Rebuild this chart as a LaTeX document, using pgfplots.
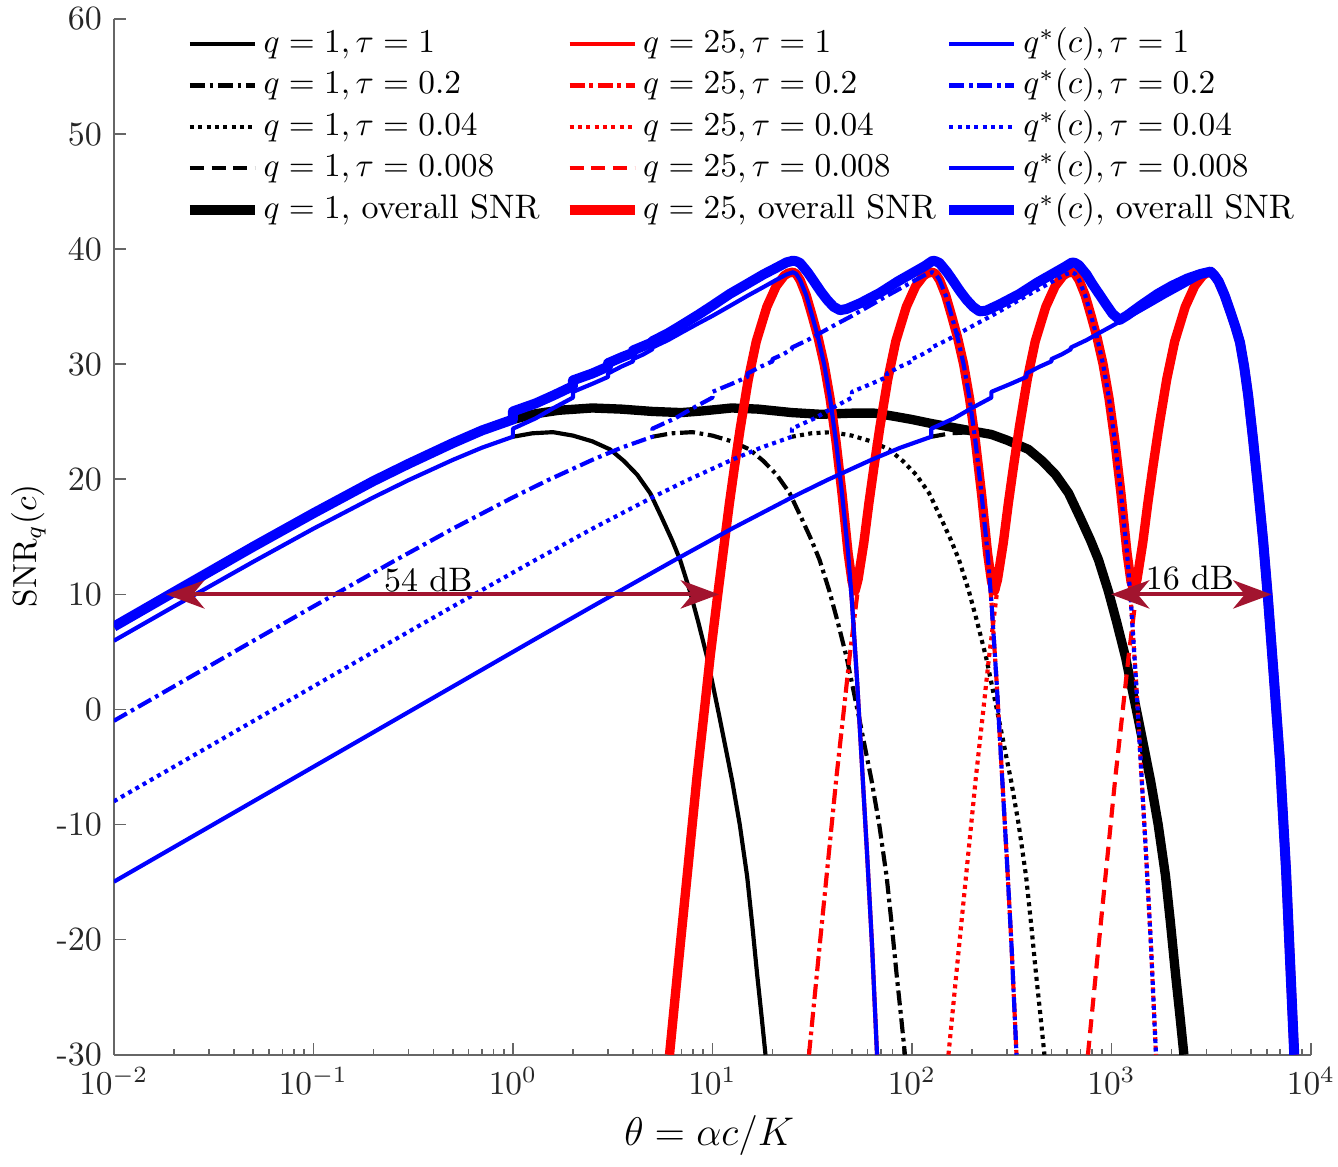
\documentclass[border=0pt]{standalone}
\usepackage{pgfplots}
\pgfplotsset{compat=1.18}
\usetikzlibrary{arrows.meta}

\definecolor{annot}{RGB}{162,20,47}
\tikzset{
  tauline/.style={line width=1.25pt, line join=round},
  allline/.style={line width=2.8pt, line join=round},
  dashdotpat/.style={dash pattern=on 4.5pt off 1.4pt on 1.1pt off 1.4pt},
  dotpat/.style={dash pattern=on 1.2pt off 1.3pt},
  dashpat/.style={dash pattern=on 4.2pt off 2.3pt},
}

\begin{document}
\begin{tikzpicture}
\begin{axis}[
  at={(0pt,0pt)}, anchor=south west,
  scale only axis,
  width=359.25pt, height=310.8pt,
  xmin=-2, xmax=4, ymin=-30, ymax=60,
  axis lines*=left,
  axis line style={-, black!60, line width=0.5pt},
  tick style={black!60, line width=0.5pt},
  tick align=inside,
  major tick length=3.6pt, minor tick length=1.8pt,
  xtick={-2,-1,0,1,2,3,4},
  xticklabels={$10^{-2}$,$10^{-1}$,$10^{0}$,$10^{1}$,$10^{2}$,$10^{3}$,$10^{4}$},
  minor xtick={-1.699,-1.523,-1.398,-1.301,-1.222,-1.155,-1.097,-1.046,
               -0.699,-0.523,-0.398,-0.301,-0.222,-0.155,-0.097,-0.046,
               0.301,0.477,0.602,0.699,0.778,0.845,0.903,0.954,
               1.301,1.477,1.602,1.699,1.778,1.845,1.903,1.954,
               2.301,2.477,2.602,2.699,2.778,2.845,2.903,2.954,
               3.301,3.477,3.602,3.699,3.778,3.845,3.903,3.954},
  ytick={-30,-20,-10,0,10,20,30,40,50,60},
  yticklabels={-30,-20,-10,0,10,20,30,40,50,60},
  ticklabel style={font=\fontsize{10.2}{12}\selectfont, text=black!85},
  xticklabel style={inner sep=0pt, yshift=-3.6pt},
  yticklabel style={inner sep=0pt, xshift=-3.4pt},
  xlabel={$\theta=\alpha c/K$},
  xlabel style={font=\fontsize{12.5}{14}\selectfont, at={(axis description cs:0.4973,-0.0782)}, anchor=center},
  ylabel={$\mathrm{SNR}_q(c)$},
  ylabel style={font=\fontsize{10.2}{12}\selectfont, at={(axis description cs:-0.0714,0.4913)}, anchor=center},
  legend columns=3,
  legend cell align=left,
  legend image code/.code={\draw[#1] (0pt,0pt) -- (19.5pt,0pt);},
  legend style={at={(axis description cs:0.0597,0.9959)}, anchor=north west,
    draw=none, fill=none, inner sep=0pt, outer sep=0pt,
    row sep=0.05pt, column sep=0pt,
    font=\fontsize{10.2}{12}\selectfont,
    nodes={inner xsep=0pt, inner ysep=1.5pt, text height=7.2pt, text depth=2.2pt},
    /tikz/every odd column/.append style={column sep=1.2pt},
    /tikz/every even column/.append style={column sep=2.4pt}},
]

% ---------- q = 1 ----------
\addplot[black, tauline, forget plot] coordinates {
(0.000,23.7) (0.097,24.0) (0.201,24.1) (0.301,23.8) (0.398,23.3) (0.487,22.6) (0.556,21.6) (0.623,20.4) (0.688,18.8) (0.748,16.6) (0.798,14.7) (0.838,13.0) (0.887,10.3) (0.929,7.6) (0.974,4.5) (1.037,-0.8) (1.099,-6.2) (1.137,-10.0) (1.174,-14.5) (1.199,-18.6) (1.224,-23.0) (1.246,-26.6) (1.266,-30.0)};
\addplot[black, tauline, dashdotpat, forget plot] coordinates {
(0.699,23.7) (0.796,24.0) (0.900,24.1) (1.000,23.8) (1.097,23.3) (1.186,22.6) (1.255,21.6) (1.322,20.4) (1.387,18.8) (1.447,16.6) (1.497,14.7) (1.537,13.0) (1.586,10.3) (1.628,7.6) (1.673,4.5) (1.736,-0.8) (1.798,-6.2) (1.836,-10.0) (1.873,-14.5) (1.898,-18.6) (1.923,-23.0) (1.945,-26.6) (1.965,-30.0)};
\addplot[black, tauline, dotpat, forget plot] coordinates {
(1.398,23.7) (1.495,24.0) (1.599,24.1) (1.699,23.8) (1.796,23.3) (1.885,22.6) (1.954,21.6) (2.021,20.4) (2.086,18.8) (2.146,16.6) (2.196,14.7) (2.236,13.0) (2.285,10.3) (2.327,7.6) (2.372,4.5) (2.435,-0.8) (2.497,-6.2) (2.535,-10.0) (2.572,-14.5) (2.597,-18.6) (2.622,-23.0) (2.644,-26.6) (2.664,-30.0)};
\addplot[black, tauline, dashpat, forget plot] coordinates {
(2.097,23.7) (2.194,24.0) (2.298,24.1) (2.398,23.8) (2.495,23.3) (2.584,22.6) (2.653,21.6) (2.720,20.4) (2.785,18.8) (2.845,16.6) (2.895,14.7) (2.935,13.0) (2.984,10.3) (3.026,7.6) (3.071,4.5) (3.134,-0.8) (3.196,-6.2) (3.234,-10.0) (3.271,-14.5) (3.296,-18.6) (3.321,-23.0) (3.343,-26.6) (3.363,-30.0)};
\addplot[black, allline, forget plot] coordinates {
(0.000,25.2) (0.114,25.7) (0.230,26.0) (0.398,26.2) (0.544,26.1) (0.699,25.9) (0.845,25.8) (0.954,25.95) (1.097,26.2) (1.230,26.1) (1.398,25.8) (1.544,25.65) (1.699,25.75) (1.813,25.75) (1.903,25.5) (2.000,25.2) (2.097,24.85) (2.176,24.6) (2.301,24.2) (2.398,23.9) (2.477,23.4) (2.584,22.6) (2.653,21.6) (2.720,20.4) (2.785,18.8) (2.845,16.6) (2.895,14.7) (2.935,13.0) (2.984,10.3) (3.026,7.6) (3.071,4.5) (3.134,-0.8) (3.196,-6.2) (3.234,-10.0) (3.271,-14.5) (3.296,-18.6) (3.321,-23.0) (3.343,-26.6) (3.363,-30.0)};

% ---------- q = 25 ----------
\addplot[red, tauline, forget plot] coordinates {
(0.785,-30) (0.830,-22.0) (0.873,-14.5) (0.923,-5.8) (0.960,0.0) (0.988,4.5) (1.029,10.3) (1.060,14.5) (1.085,17.9) (1.110,21.0) (1.140,24.5) (1.180,28.7) (1.220,32.0) (1.273,35.0) (1.320,36.8) (1.360,37.7) (1.380,37.92) (1.404,38.0) (1.420,37.85) (1.440,37.3) (1.470,36.0) (1.500,34.2) (1.530,32.3) (1.560,30.0) (1.590,27.0) (1.620,23.2) (1.650,18.7) (1.680,13.6) (1.700,9.2) (1.725,2.5) (1.750,-5.0) (1.775,-12.5) (1.800,-20.5) (1.825,-30.0)};
\addplot[red, tauline, dashdotpat, forget plot] coordinates {
(1.484,-30) (1.529,-22.0) (1.572,-14.5) (1.622,-5.8) (1.659,0.0) (1.687,4.5) (1.728,10.3) (1.759,14.5) (1.784,17.9) (1.809,21.0) (1.839,24.5) (1.879,28.7) (1.919,32.0) (1.972,35.0) (2.019,36.8) (2.059,37.7) (2.079,37.92) (2.103,38.0) (2.119,37.85) (2.139,37.3) (2.169,36.0) (2.199,34.2) (2.229,32.3) (2.259,30.0) (2.289,27.0) (2.319,23.2) (2.349,18.7) (2.379,13.6) (2.399,9.2) (2.424,2.5) (2.449,-5.0) (2.474,-12.5) (2.499,-20.5) (2.524,-30.0)};
\addplot[red, tauline, dotpat, forget plot] coordinates {
(2.183,-30) (2.228,-22.0) (2.271,-14.5) (2.321,-5.8) (2.358,0.0) (2.386,4.5) (2.427,10.3) (2.458,14.5) (2.483,17.9) (2.508,21.0) (2.538,24.5) (2.578,28.7) (2.618,32.0) (2.671,35.0) (2.718,36.8) (2.758,37.7) (2.778,37.92) (2.802,38.0) (2.818,37.85) (2.838,37.3) (2.868,36.0) (2.898,34.2) (2.928,32.3) (2.958,30.0) (2.988,27.0) (3.018,23.2) (3.048,18.7) (3.078,13.6) (3.098,9.2) (3.123,2.5) (3.148,-5.0) (3.173,-12.5) (3.198,-20.5) (3.223,-30.0)};
\addplot[red, tauline, dashpat, forget plot] coordinates {
(2.882,-30) (2.927,-22.0) (2.970,-14.5) (3.020,-5.8) (3.057,0.0) (3.085,4.5) (3.126,10.3) (3.157,14.5) (3.182,17.9) (3.207,21.0) (3.237,24.5) (3.277,28.7) (3.317,32.0) (3.370,35.0) (3.417,36.8) (3.457,37.7) (3.477,37.92) (3.501,38.0) (3.517,37.7) (3.537,37.2) (3.567,36.0) (3.597,34.5) (3.622,33.2) (3.644,31.9) (3.665,29.8) (3.685,27.3) (3.710,23.4) (3.736,19.0) (3.760,14.7) (3.785,9.5) (3.813,3.0) (3.844,-4.4) (3.875,-14.0) (3.898,-23.0) (3.916,-30.0)};
\addplot[red, allline, forget plot] coordinates {
(0.785,-30) (0.830,-22.0) (0.873,-14.5) (0.923,-5.8) (0.960,0.0) (0.988,4.5) (1.029,10.3) (1.060,14.5) (1.085,17.9) (1.110,21.0) (1.140,24.5) (1.180,28.7) (1.220,32.0) (1.273,35.0) (1.320,36.8) (1.360,37.7) (1.380,37.92) (1.404,38.0) (1.420,37.85) (1.440,37.3) (1.470,36.0) (1.500,34.2) (1.530,32.3) (1.560,30.0) (1.590,27.0) (1.620,23.2) (1.650,18.7) (1.680,13.6) (1.700,11.1) (1.715,10.3) (1.730,11.3) (1.759,14.5) (1.784,17.9) (1.809,21.0) (1.839,24.5) (1.879,28.7) (1.919,32.0) (1.972,35.0) (2.019,36.8) (2.059,37.7) (2.079,37.92) (2.103,38.0) (2.119,37.85) (2.139,37.3) (2.169,36.0) (2.199,34.2) (2.229,32.3) (2.259,30.0) (2.289,27.0) (2.319,23.2) (2.349,18.7) (2.379,13.6) (2.399,11.1) (2.414,10.3) (2.429,11.3) (2.458,14.5) (2.483,17.9) (2.508,21.0) (2.538,24.5) (2.578,28.7) (2.618,32.0) (2.671,35.0) (2.718,36.8) (2.758,37.7) (2.778,37.92) (2.802,38.0) (2.818,37.85) (2.838,37.3) (2.868,36.0) (2.898,34.2) (2.928,32.3) (2.958,30.0) (2.988,27.0) (3.018,23.2) (3.048,18.7) (3.078,13.6) (3.098,11.1) (3.113,10.3) (3.128,11.3) (3.157,14.5) (3.182,17.9) (3.207,21.0) (3.237,24.5) (3.277,28.7) (3.317,32.0) (3.370,35.0) (3.417,36.8) (3.457,37.7) (3.477,37.92) (3.501,38.0) (3.517,37.7) (3.537,37.2) (3.567,36.0) (3.597,34.5) (3.622,33.2) (3.644,31.9) (3.665,29.8) (3.685,27.3) (3.710,23.4) (3.736,19.0) (3.760,14.7) (3.785,9.5) (3.813,3.0) (3.844,-4.4) (3.875,-14.0) (3.898,-23.0) (3.916,-30.0)};

% ---------- q*(c) ----------
\addplot[blue, tauline, forget plot] coordinates {
(-2.000,5.97) (-1.699,8.95) (-1.301,12.84) (-1.000,15.71) (-0.699,18.43) (-0.523,19.93) (-0.301,21.69) (-0.155,22.75) (0.000,23.70) (0.000,24.4) (0.114,25.3) (0.204,26.2) (0.301,27.1) (0.301,27.6) (0.398,28.3) (0.477,28.9) (0.477,29.2) (0.544,29.8) (0.602,30.25) (0.602,30.45) (0.653,30.85) (0.699,31.3) (0.699,31.45) (0.778,32.1) (0.845,32.75) (0.929,33.55) (1.000,34.2) (1.086,35.05) (1.176,35.95) (1.255,36.7) (1.322,37.35) (1.371,37.8) (1.404,38.0) (1.420,37.85) (1.440,37.3) (1.470,36.0) (1.500,34.2) (1.530,32.3) (1.560,30.0) (1.590,27.0) (1.620,23.2) (1.650,18.7) (1.680,13.6) (1.700,9.2) (1.725,2.5) (1.750,-5.0) (1.775,-12.5) (1.800,-20.5) (1.825,-30.0)};
\addplot[blue, tauline, dashdotpat, forget plot] coordinates {
(-2.000,-0.99) (-1.301,5.97) (-1.000,8.95) (-0.602,12.84) (-0.301,15.71) (0.000,18.43) (0.176,19.93) (0.398,21.69) (0.544,22.75) (0.699,23.70) (0.699,24.4) (0.813,25.3) (0.903,26.2) (1.000,27.1) (1.000,27.6) (1.097,28.3) (1.176,28.9) (1.176,29.2) (1.243,29.8) (1.301,30.25) (1.301,30.45) (1.352,30.85) (1.398,31.3) (1.398,31.45) (1.477,32.1) (1.544,32.75) (1.628,33.55) (1.699,34.2) (1.785,35.05) (1.875,35.95) (1.954,36.7) (2.021,37.35) (2.070,37.8) (2.103,38.0) (2.119,37.85) (2.139,37.3) (2.169,36.0) (2.199,34.2) (2.229,32.3) (2.259,30.0) (2.289,27.0) (2.319,23.2) (2.349,18.7) (2.379,13.6) (2.399,9.2) (2.424,2.5) (2.449,-5.0) (2.474,-12.5) (2.499,-20.5) (2.524,-30.0)};
\addplot[blue, tauline, dotpat, forget plot] coordinates {
(-2.000,-7.98) (-0.602,5.97) (-0.301,8.95) (0.097,12.84) (0.398,15.71) (0.699,18.43) (0.875,19.93) (1.097,21.69) (1.243,22.75) (1.398,23.70) (1.398,24.4) (1.512,25.3) (1.602,26.2) (1.699,27.1) (1.699,27.6) (1.796,28.3) (1.875,28.9) (1.875,29.2) (1.942,29.8) (2.000,30.25) (2.000,30.45) (2.051,30.85) (2.097,31.3) (2.097,31.45) (2.176,32.1) (2.243,32.75) (2.327,33.55) (2.398,34.2) (2.484,35.05) (2.574,35.95) (2.653,36.7) (2.720,37.35) (2.769,37.8) (2.802,38.0) (2.818,37.85) (2.838,37.3) (2.868,36.0) (2.898,34.2) (2.928,32.3) (2.958,30.0) (2.988,27.0) (3.018,23.2) (3.048,18.7) (3.078,13.6) (3.098,9.2) (3.123,2.5) (3.148,-5.0) (3.173,-12.5) (3.198,-20.5) (3.223,-30.0)};
\addplot[blue, tauline, forget plot] coordinates {
(-2.000,-14.97) (0.097,5.97) (0.398,8.95) (0.796,12.84) (1.097,15.71) (1.398,18.43) (1.574,19.93) (1.796,21.69) (1.942,22.75) (2.097,23.70) (2.097,24.4) (2.211,25.3) (2.301,26.2) (2.398,27.1) (2.398,27.6) (2.495,28.3) (2.574,28.9) (2.574,29.2) (2.641,29.8) (2.699,30.25) (2.699,30.45) (2.750,30.85) (2.796,31.3) (2.796,31.45) (2.875,32.1) (2.942,32.75) (3.026,33.55) (3.097,34.2) (3.183,35.05) (3.273,35.95) (3.352,36.7) (3.419,37.35) (3.468,37.8) (3.501,38.0) (3.517,37.7) (3.537,37.2) (3.567,36.0) (3.597,34.5) (3.622,33.2) (3.644,31.9) (3.665,29.8) (3.685,27.3) (3.710,23.4) (3.736,19.0) (3.760,14.7) (3.785,9.5) (3.813,3.0) (3.844,-4.4) (3.875,-14.0) (3.898,-23.0) (3.916,-30.0)};
\addplot[blue, allline, line width=3pt, forget plot] coordinates {
(-2.000,7.2) (-1.699,10.2) (-1.301,14.15) (-1.000,17.05) (-0.699,19.85) (-0.523,21.35) (-0.301,23.15) (-0.155,24.25) (0.000,25.2) (0.000,25.9) (0.114,26.6) (0.204,27.3) (0.301,28.1) (0.301,28.6) (0.398,29.2) (0.477,29.8) (0.477,30.1) (0.544,30.6) (0.602,31.0) (0.602,31.2) (0.699,31.9) (0.699,32.0) (0.778,32.7) (0.845,33.4) (0.929,34.3) (1.000,35.1) (1.086,36.1) (1.176,37.0) (1.255,37.8) (1.322,38.4) (1.371,38.85) (1.404,39.0) (1.420,38.95) (1.439,38.8) (1.477,38.0) (1.505,37.3) (1.544,36.3) (1.575,35.6) (1.607,35.0) (1.639,34.7) (1.672,34.8) (1.740,35.3) (1.839,36.2) (1.929,37.2) (2.000,37.9) (2.061,38.5) (2.104,39.0) (2.119,38.95) (2.138,38.8) (2.176,38.0) (2.204,37.3) (2.243,36.3) (2.274,35.6) (2.306,35.0) (2.338,34.6) (2.371,34.65) (2.439,35.2) (2.538,36.1) (2.628,37.1) (2.699,37.8) (2.760,38.4) (2.803,38.85) (2.818,38.8) (2.837,38.6) (2.875,37.8) (2.903,37.0) (2.942,36.0) (2.973,35.2) (3.005,34.4) (3.041,33.85) (3.079,34.25) (3.146,35.1) (3.230,36.1) (3.301,36.8) (3.380,37.45) (3.447,37.85) (3.497,38.05) (3.517,37.7) (3.537,37.2) (3.567,36.0) (3.597,34.5) (3.622,33.2) (3.644,31.9) (3.665,29.8) (3.685,27.3) (3.710,23.4) (3.736,19.0) (3.760,14.7) (3.785,9.5) (3.813,3.0) (3.844,-4.4) (3.875,-14.0) (3.898,-23.0) (3.916,-30.0)};

% ---------- annotations ----------
\draw[annot, line width=1.2pt,
  {Stealth[length=11.5pt,width=8.5pt,inset=3.5pt]}-{Stealth[length=11.5pt,width=8.5pt,inset=3.5pt]}]
  (axis cs:-1.738,10) -- (axis cs:1.033,10);
\draw[annot, line width=1.2pt,
  {Stealth[length=11.5pt,width=8.5pt,inset=3.5pt]}-{Stealth[length=11.5pt,width=8.5pt,inset=3.5pt]}]
  (axis cs:2.998,10) -- (axis cs:3.802,10);
\node[font=\fontsize{10.2}{12}\selectfont, inner sep=0pt, anchor=center] at (axis cs:-0.424,11.27) {54 dB};
\node[font=\fontsize{10.2}{12}\selectfont, inner sep=0pt, anchor=center] at (axis cs:3.393,11.44) {16 dB};

% ---------- legend (rows filled left to right) ----------
\addlegendimage{black, tauline}
\addlegendentry{\makebox[88pt][l]{$q=1, \tau=1$}}
\addlegendimage{red, tauline}
\addlegendentry{\makebox[88pt][l]{$q=25, \tau=1$}}
\addlegendimage{blue, tauline}
\addlegendentry{\makebox[88pt][l]{$q^*(c), \tau=1$}}
\addlegendimage{black, tauline, dashdotpat}
\addlegendentry{\makebox[88pt][l]{$q=1, \tau=0.2$}}
\addlegendimage{red, tauline, dashdotpat}
\addlegendentry{\makebox[88pt][l]{$q=25, \tau=0.2$}}
\addlegendimage{blue, tauline, dashdotpat}
\addlegendentry{\makebox[88pt][l]{$q^*(c), \tau=0.2$}}
\addlegendimage{black, tauline, dotpat}
\addlegendentry{\makebox[88pt][l]{$q=1, \tau=0.04$}}
\addlegendimage{red, tauline, dotpat}
\addlegendentry{\makebox[88pt][l]{$q=25, \tau=0.04$}}
\addlegendimage{blue, tauline, dotpat}
\addlegendentry{\makebox[88pt][l]{$q^*(c), \tau=0.04$}}
\addlegendimage{black, tauline, dashpat}
\addlegendentry{\makebox[88pt][l]{$q=1, \tau=0.008$}}
\addlegendimage{red, tauline, dashpat}
\addlegendentry{\makebox[88pt][l]{$q=25, \tau=0.008$}}
\addlegendimage{blue, tauline}
\addlegendentry{\makebox[88pt][l]{$q^*(c), \tau=0.008$}}
\addlegendimage{black, allline}
\addlegendentry{\makebox[88pt][l]{$q=1$, overall SNR}}
\addlegendimage{red, allline}
\addlegendentry{\makebox[88pt][l]{$q=25$, overall SNR}}
\addlegendimage{blue, allline, line width=3pt}
\addlegendentry{\makebox[88pt][l]{$q^*(c)$, overall SNR}}
\end{axis}
\path (-34.05pt,-32.4pt) rectangle (367.35pt,316.5pt);
\end{tikzpicture}
\end{document}
